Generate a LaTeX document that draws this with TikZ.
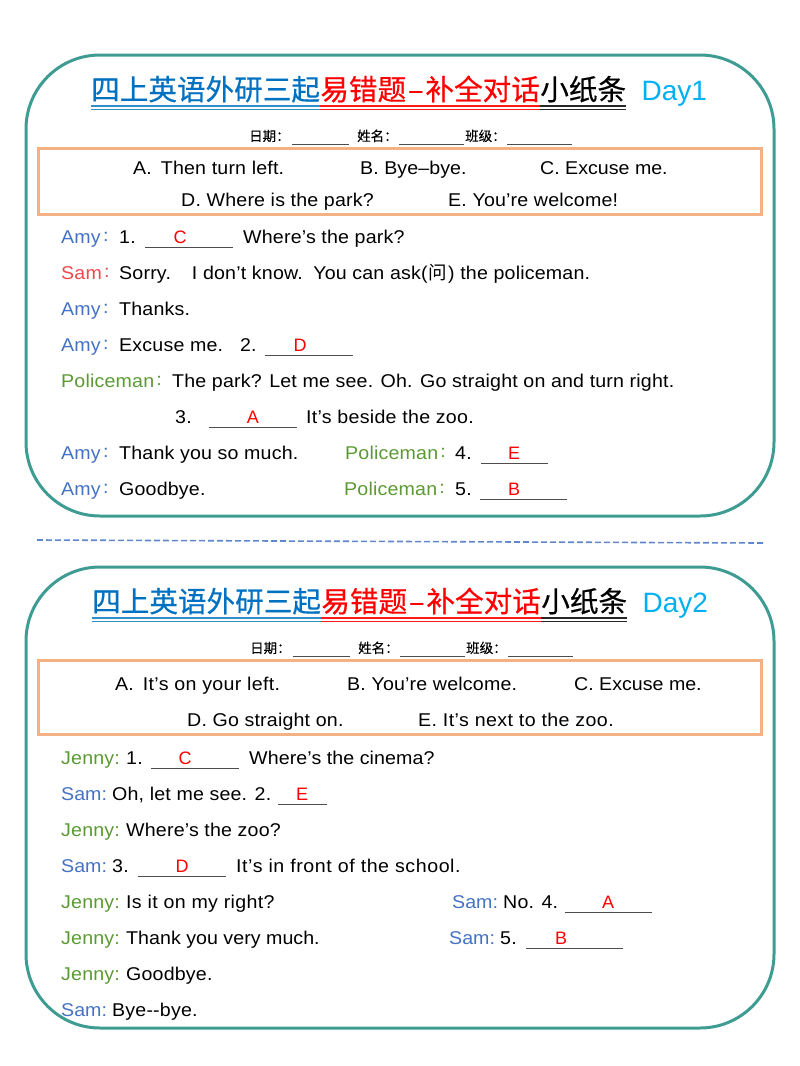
\documentclass[tikz,border=0pt]{standalone}
\usepackage{fontspec}
\setmainfont[FakeStretch=1.06, LetterSpace=1]{Liberation Sans}
\newfontfamily\plainfont{Liberation Sans}
\newfontfamily\cjk{Noto Sans CJK SC}
\newfontfamily\cjkbold[FakeBold=0.5]{Noto Sans CJK SC}
\newfontfamily\cjksmall[FakeBold=0.25]{Noto Sans CJK SC}
\newfontfamily\colonfont{Noto Sans CJK TC}
\newcommand{\namecolon}{{\colonfont\fontsize{15}{16}\selectfont\hspace{-2.5pt}\raisebox{0.5pt}{：}}}
\newcommand{\track}[1]{\addfontfeature{LetterSpace=#1}}
\usetikzlibrary{positioning}
\definecolor{framecol}{HTML}{3F9C92}
\definecolor{boxcol}{HTML}{F4B183}
\definecolor{bluecol}{HTML}{0070C0}
\definecolor{skycol}{HTML}{00B0F0}
\definecolor{namecol}{HTML}{4472C4}
\definecolor{greencol}{HTML}{5B9A33}
\definecolor{samcol}{HTML}{F0484E}
\tikzset{
	frame/.style={draw=framecol, line width=3pt, rounded corners=74pt},
	optbox/.style={draw=boxcol, line width=3pt},
	title/.style={anchor=base west, inner sep=0pt, font=\cjkbold\fontsize{28.6}{30}\selectfont},
	daylabel/.style={anchor=base west, inner sep=0pt, text=skycol, font=\plainfont\fontsize{28}{30}\selectfont},
	small/.style={anchor=base west, inner sep=0pt, font=\cjksmall\fontsize{13.5}{15}\selectfont},
	say/.style={anchor=base west, inner sep=0pt, font=\fontsize{18.5}{20}\selectfont},
	answer/.style={anchor=base, inner sep=0pt, text=red, font=\plainfont\fontsize{18}{20}\selectfont},
	blankline/.style={draw=black!70, line width=1pt},
	underl/.style={line width=1.5pt},
}
\begin{document}
\begin{tikzpicture}[x=1pt, y=-1pt]
	\useasboundingbox (0,0) rectangle (800,1066);

	% panels
	\draw[frame] (26,55) rectangle (774,516);
	\draw[frame] (26,567) rectangle (774,1028);
	\draw[optbox] (38,148) rectangle (761,214);
	\draw[optbox] (38,660) rectangle (761,734);

	\coordinate (cuta) at (37,540);
	\coordinate (cutb) at (763,543);
	\draw[namecol!85, line width=1.6pt, dash pattern=on 6pt off 3pt] (cuta) -- (cutb);

	% titles
	\foreach \p/\xa/\yy/\day in {1/91/100/Day1, 2/92/612/Day2} {
		\node[title, text=bluecol] (tb\p) at (\xa,\yy) {四上英语外研三起};
		\node[title, text=red, right=0pt of tb\p.base east, anchor=base west] (tr\p) {易错题\hspace{2pt}–\hspace{2pt}补全对话};
		\node[title, right=0pt of tr\p.base east, anchor=base west] (tk\p) {小纸条};
		\node[daylabel, right=15pt of tk\p.base east, anchor=base west] (day\p) {\day};
		\foreach \d in {6,9.5} {
			\draw[underl, bluecol!80] ([yshift=-\d pt]tb\p.base west) -- ([yshift=-\d pt]tb\p.base east);
			\draw[underl, red!90] ([yshift=-\d pt]tr\p.base west) -- ([yshift=-\d pt]tr\p.base east);
			\draw[underl, black!85] ([yshift=-\d pt]tk\p.base west) -- ([yshift=-\d pt]tk\p.base east);
		}
	}

	% date row
	\foreach \p/\xo/\yy in {1/0/141, 2/1/653} {
		\node[small] (date\p) at (249+\xo,\yy) {日期：};
		\node[small] (name\p) at (357+\xo,\yy) {姓名：};
		\node[small] (class\p) at (465+\xo,\yy) {班级：};
		\draw[blankline] (292+\xo,\yy+3.5) -- (349+\xo,\yy+3.5);
		\draw[blankline] (399+\xo,\yy+3.5) -- (464+\xo,\yy+3.5);
		\draw[blankline] (507+\xo,\yy+3.5) -- (572+\xo,\yy+3.5);
	}

	% options, day 1
	\node[say] (a1) at (133,174) {A.\hspace{9pt}Then turn left.};
	\node[say] (b1) at (360,174) {\track{0.4}B. Bye–bye.};
	\node[say] (c1) at (540,174) {\track{0}C. Excuse me.};
	\node[say] (d1) at (181,206) {D. Where is the park?};
	\node[say] (e1) at (448,206) {E. You’re welcome!};

	% dialogue, day 1
	\node[say, text=namecol] (n1) at (61,243) {Amy\namecolon};
	\node[say] (s1) at (119,243) {1.};
	\node[say] (q1) at (243,243) {Where’s the park?};
	\node[say, text=samcol] (n2) at (61,279) {Sam\namecolon};
	\node[say] (s2) at (119,279) {Sorry.\hspace{21pt}I don’t know.\hspace{3pt} You can ask(\hspace{1pt}{\cjk 问}\hspace{1pt}) the policeman.};
	\node[say, text=namecol] (n3) at (61,315) {Amy\namecolon};
	\node[say] (s3) at (119,315) {Thanks.};
	\node[say, text=namecol] (n4) at (61,351) {Amy\namecolon};
	\node[say] (s4) at (119,351) {Excuse me.\ \ \ 2.};
	\node[say, text=greencol] (n5) at (61,387) {Policeman\namecolon};
	\node[say] (s5) at (172,387) {The park? Let me see. Oh. Go straight on and turn right.};
	\node[say] (s6) at (175,423) {3.};
	\node[say] (q6) at (306,423) {\track{1.5}It’s beside the zoo.};
	\node[say, text=namecol] (n7) at (61,459) {Amy\namecolon};
	\node[say] (s7) at (119,459) {Thank you so much.};
	\node[say, text=greencol] (p7) at (345,459) {Policeman\namecolon};
	\node[say] (r7) at (455,459) {4.};
	\node[say, text=namecol] (n8) at (61,495) {Amy\namecolon};
	\node[say] (s8) at (119,495) {Goodbye.};
	\node[say, text=greencol] (p8) at (344,495) {Policeman\namecolon};
	\node[say] (r8) at (455,495) {5.};

	% options, day 2
	\node[say] (a2) at (115,690) {A.\hspace{9pt}\track{1.8}It’s on your left.};
	\node[say] (b2) at (347,690) {B. You’re welcome.};
	\node[say] (c2) at (574,690) {\track{0}C. Excuse me.};
	\node[say] (d2) at (187,726) {D. Go straight on.};
	\node[say] (e2) at (418,726) {\track{2.2}E. It’s next to the zoo.};

	% dialogue, day 2
	\node[say, text=greencol] (j1) at (61,764) {Jenny:};
	\node[say] (t1) at (126,764) {1.};
	\node[say] (u1) at (249,764) {\track{0.5}Where’s the cinema?};
	\node[say, text=namecol] (j2) at (61,800) {\track{0}Sam:};
	\node[say] (t2) at (112,800) {Oh, let me see. 2.};
	\node[say, text=greencol] (j3) at (61,836) {Jenny:};
	\node[say] (t3) at (126,836) {Where’s the zoo?};
	\node[say, text=namecol] (j4) at (61,872) {\track{0}Sam:};
	\node[say] (t4) at (112,872) {3.};
	\node[say] (u4) at (236,872) {\track{3}It’s in front of the school.};
	\node[say, text=greencol] (j5) at (61,908) {Jenny:};
	\node[say] (t5) at (126,908) {\track{1.9}Is it on my right?};
	\node[say, text=namecol] (k5) at (452,908) {\track{0}Sam:};
	\node[say] (v5) at (503,908) {No. 4.};
	\node[say, text=greencol] (j6) at (61,944) {Jenny:};
	\node[say] (t6) at (126,944) {\track{0.2}Thank you very much.};
	\node[say, text=namecol] (k6) at (449,944) {\track{0}Sam:};
	\node[say] (v6) at (500,944) {5.};
	\node[say, text=greencol] (j7) at (61,980) {Jenny:};
	\node[say] (t7) at (126,980) {Goodbye.};
	\node[say, text=namecol] (j8) at (61,1016) {\track{0}Sam:};
	\node[say] (t8) at (112,1016) {Bye-{}-bye.};

	% answers on their lines
	\foreach \id/\xa/\xb/\xc/\yy/\ans in {
		la/145/233/180/247/C, lb/265/353/300/355/D, lc/209/297/253/427/A,
		ld/481/548/514/463/E, le/480/567/514/499/B,
		lf/151/239/185/768/C, lg/278/327/302/804/E, lh/138/226/182/876/D,
		li/565/652/608/912/A, lj/526/623/561/948/B} {
		\coordinate (\id s) at (\xa,\yy);
		\coordinate (\id e) at (\xb,\yy);
		\draw[blankline] (\id s) -- (\id e);
		\node[answer] (\id) at (\xc,\yy-4) {\ans};
	}
\end{tikzpicture}
\end{document}
